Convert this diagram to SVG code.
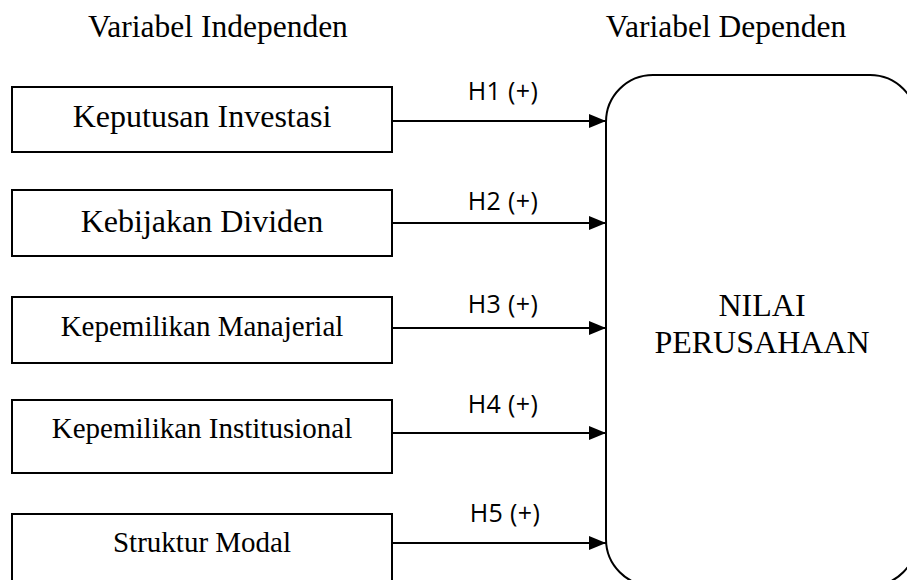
<svg xmlns="http://www.w3.org/2000/svg" width="907" height="580" viewBox="0 0 907 580">
<style>
.box{fill:#fff;stroke:#000;stroke-width:2}
.big{fill:#fff;stroke:#000;stroke-width:2}
.t{font-family:"Liberation Serif","Times New Roman",serif;fill:#000;text-anchor:middle}
.h{font-family:"Open Sans","Liberation Sans",sans-serif;font-size:25px;letter-spacing:0.4px;fill:#000;text-anchor:middle}
.c{stroke:#000;stroke-width:2;fill:none;marker-end:url(#ah)}
</style>
<defs>
<marker id="ah" markerUnits="userSpaceOnUse" markerWidth="18" markerHeight="16" refX="17" refY="7" orient="auto">
<path d="M0,0 L17,7 L0,14 Z" fill="#000"/>
</marker>
</defs>
<rect width="907" height="580" fill="#fff"/>
<text class="t" x="218" y="37" font-size="31.5">Variabel Independen</text>
<text class="t" x="726" y="37" font-size="31.5">Variabel Dependen</text>

<g id="n1"><rect class="box" x="12" y="87" width="380" height="65"/><text class="t" x="202" y="127" font-size="32">Keputusan Investasi</text></g>
<g id="n2"><rect class="box" x="12" y="190" width="380" height="66"/><text class="t" x="202" y="232" font-size="32">Kebijakan Dividen</text></g>
<g id="n3"><rect class="box" x="12" y="297" width="380" height="66"/><text class="t" x="202" y="336" font-size="29">Kepemilikan Manajerial</text></g>
<g id="n4"><rect class="box" x="12" y="400" width="380" height="73"/><text class="t" x="202" y="438" font-size="29">Kepemilikan Institusional</text></g>
<g id="n5"><rect class="box" x="12" y="514" width="380" height="80"/><text class="t" x="202" y="552" font-size="29">Struktur Modal</text></g>

<g id="target"><rect class="big" x="606" y="75" width="311" height="511" rx="47" ry="47"/>
<text class="t" x="762" y="316" font-size="32">NILAI</text>
<text class="t" x="762" y="353" font-size="32">PERUSAHAAN</text></g>

<g id="connectors">
<line class="c" x1="393" y1="121" x2="606" y2="121"/>
<line class="c" x1="393" y1="223" x2="606" y2="223"/>
<line class="c" x1="393" y1="328" x2="606" y2="328"/>
<line class="c" x1="393" y1="433" x2="606" y2="433"/>
<line class="c" x1="393" y1="543" x2="606" y2="543"/>
<text class="h" x="503" y="100">H1 (+)</text>
<text class="h" x="503" y="210">H2 (+)</text>
<text class="h" x="503" y="313">H3 (+)</text>
<text class="h" x="503" y="413">H4 (+)</text>
<text class="h" x="505" y="522">H5 (+)</text>
</g>
</svg>
